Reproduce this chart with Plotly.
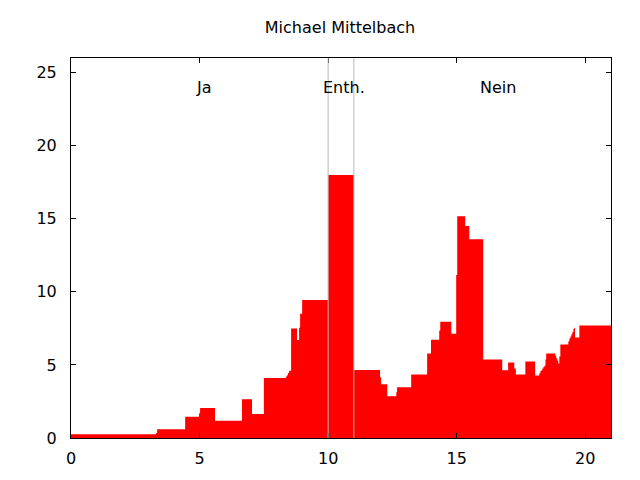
import plotly.graph_objects as go

# step start positions and heights (each step runs until the next start)
x_start = [0.0, 3.31, 3.35, 4.44, 4.98, 5.02, 5.6, 6.65, 7.04, 7.5,
           8.36, 8.4, 8.44, 8.48, 8.56, 8.79, 8.87, 8.91, 8.99, 10.0,
           11.0, 12.02, 12.06, 12.3, 12.65, 12.68, 13.23, 13.85, 14.0, 14.32,
           14.36, 14.79, 14.98, 15.02, 15.33, 15.49, 16.03, 16.77, 17.0, 17.24,
           17.3, 17.67, 18.05, 18.21, 18.25, 18.29, 18.33, 18.37, 18.41, 18.45,
           18.48, 18.83, 18.87, 18.91, 18.95, 18.99, 19.03, 19.34, 19.38, 19.42,
           19.46, 19.5, 19.54, 19.57, 19.6, 19.77]
heights = [0.25, 0.35, 0.6, 1.45, 1.7, 2.05, 1.18, 2.65, 1.65, 4.1,
           4.2, 4.3, 4.45, 4.6, 7.5, 6.7, 7.55, 8.5, 9.45, 18.0,
           4.65, 4.15, 3.67, 2.86, 3.13, 3.47, 4.35, 5.78, 6.73, 7.35,
           7.96, 7.14, 11.16, 15.17, 14.5, 13.6, 5.37, 4.63, 5.17, 4.76,
           4.35, 5.24, 4.28, 4.42, 4.56, 4.63, 4.76, 4.85, 4.95, 5.37,
           5.78, 5.65, 5.45, 5.3, 5.1, 5.58, 6.39, 6.6, 6.8, 6.95,
           7.1, 7.25, 7.45, 7.55, 6.87, 7.69]
x_end = 21.0

dividers = [10, 11]
labels = ["Ja", "Enth.", "Nein"]
label_x = [5.16, 10.6, 16.6]
label_y = 24.0

xs = x_start + [x_end]
ys = heights + [heights[-1]]

# page body has an 8px margin, so the figure is a bit smaller and shifted
W, H = 632, 472

fig = go.Figure()
fig.add_trace(go.Scatter(x=xs, y=ys, mode="lines", line=dict(shape="hv", width=0, color="red"),
                         fill="tozeroy", fillcolor="#ff0000", showlegend=False, hoverinfo="skip"))

for d in dividers:
    fig.add_shape(type="line", x0=d, x1=d, y0=0, y1=1, xref="x", yref="paper",
                  line=dict(color="#b8b8b8", width=1), layer="above")

txt_font = dict(family="DejaVu Sans", size=16, color="black")

for t, lx in zip(labels, label_x):
    fig.add_annotation(x=lx, y=label_y, text=t, showarrow=False, font=txt_font)

axis_style = dict(showgrid=False, zeroline=False, showline=True, linecolor="black", linewidth=1,
                  mirror="ticks", ticks="inside", ticklen=5, tickcolor="black",
                  tickfont=txt_font)

fig.update_layout(
    width=W, height=H,
    margin=dict(l=63, r=29, t=50, b=40),
    paper_bgcolor="white", plot_bgcolor="white",
    font=txt_font,
    title=dict(text="Michael Mittelbach", x=(340 - 8) / W, xanchor="center", y=1 - 19 / H, yanchor="middle",
               font=txt_font),
    xaxis=dict(range=[0, 21], tickvals=[0, 5, 10, 15, 20], ticklabelstandoff=6, **axis_style),
    yaxis=dict(range=[0, 26], tickvals=[0, 5, 10, 15, 20, 25], ticklabelstandoff=10, **axis_style),
)

fig.write_html("out.html")
